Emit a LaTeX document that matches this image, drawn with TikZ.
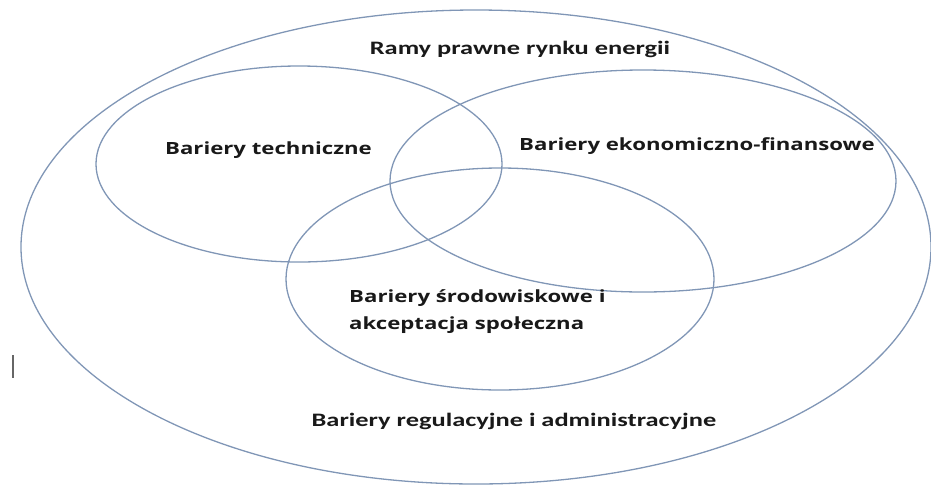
\documentclass[tikz,border=0pt]{standalone}
\usepackage{fontspec}
\newfontfamily\calfont{Carlito}
\newfontfamily\opfont{Open Sans}
\definecolor{ringcol}{RGB}{128,150,182}
\definecolor{txtcol}{RGB}{25,25,25}
\newcommand{\calwide}[1]{\scalebox{1.39}[1]{#1}}
\newcommand{\opwide}[1]{\scalebox{1.32}[1]{#1}}
\tikzset{
  ring/.style={draw=ringcol, line width=1.3pt},
  calabel/.style={text=txtcol, font=\calfont\bfseries\fontsize{19}{22}\selectfont, inner sep=0pt, anchor=base},
  oplabel/.style={text=txtcol, font=\opfont\bfseries\fontsize{16.8}{20}\selectfont, inner sep=0pt, anchor=base}
}
\begin{document}
\begin{tikzpicture}[x=1pt,y=-1pt]
\useasboundingbox (0,0) rectangle (931,488);
\draw[ring] (476,247) ellipse [x radius=455, y radius=237];
\draw[ring] (299,164) ellipse [x radius=203, y radius=98];
\draw[ring] (643,181) ellipse [x radius=253, y radius=111];
\draw[ring] (500,279) ellipse [x radius=214, y radius=111];
\node[calabel] (ramy) at (520,54) {\calwide{Ramy prawne rynku energii}};
\node[oplabel] (tech) at (268.5,154) {\opwide{Bariery techniczne}};
\node[oplabel] (eko) at (697,150) {\opwide{Bariery ekonomiczno-finansowe}};
\node[oplabel, anchor=base west] (srodA) at (349,302) {\opwide{Bariery środowiskowe i}};
\node[oplabel, anchor=base west] (srodB) at (349,329) {\opwide{akceptacja społeczna}};
\node[calabel] (reg) at (514,426) {\calwide{Bariery regulacyjne i administracyjne}};
\draw[draw=gray!80!black, line width=1.5pt] (13,355) -- (13,378);
\end{tikzpicture}
\end{document}
